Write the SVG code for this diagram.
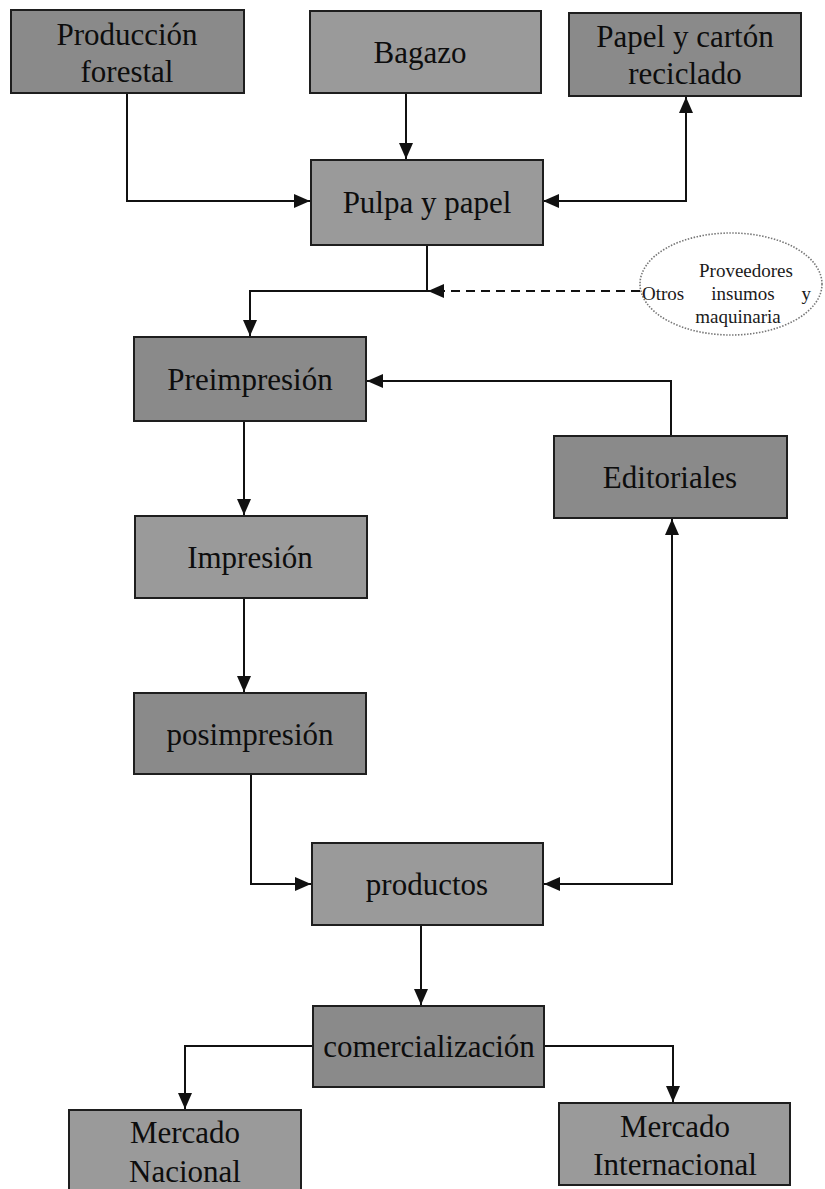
<svg xmlns="http://www.w3.org/2000/svg" width="825" height="1189" viewBox="0 0 825 1189">
<style>
.box{stroke:#1e1e1e;stroke-width:2}
.d{fill:#8a8a8a}
.l{fill:#9a9a9a}
.t{font-family:"Liberation Serif","Times New Roman",serif;font-size:31px;fill:#0d0d0d;text-anchor:middle}
.s{font-family:"Liberation Serif","Times New Roman",serif;font-size:19px;fill:#1a1a1a}
.c{fill:none;stroke:#111;stroke-width:2}
.dash{fill:none;stroke:#111;stroke-width:2;stroke-dasharray:9 6}
</style>
<defs>
<marker id="a" viewBox="0 0 16 16" refX="16" refY="8" markerWidth="16" markerHeight="16" markerUnits="userSpaceOnUse" orient="auto-start-reverse">
<path d="M0,1 L16,8 L0,15 z" fill="#111"/>
</marker>
</defs>
<rect width="825" height="1189" fill="#ffffff"/>

<g id="connectors">
<path class="c" d="M127,93 V201 H310" marker-end="url(#a)"/>
<path class="c" d="M406,93 V159" marker-end="url(#a)"/>
<path class="c" d="M543,201 H686 V97" marker-start="url(#a)" marker-end="url(#a)"/>
<path class="c" d="M427,245 V291 H250 V336" marker-end="url(#a)"/>
<path class="dash" d="M640,291 H428" marker-end="url(#a)"/>
<path class="c" d="M671,436 V381 H367" marker-end="url(#a)"/>
<path class="c" d="M244,421 V515" marker-end="url(#a)"/>
<path class="c" d="M244,598 V692" marker-end="url(#a)"/>
<path class="c" d="M251,774 V884 H311" marker-end="url(#a)"/>
<path class="c" d="M544,884 H672 V519" marker-start="url(#a)" marker-end="url(#a)"/>
<path class="c" d="M421,925 V1005" marker-end="url(#a)"/>
<path class="c" d="M313,1046 H185 V1109" marker-end="url(#a)"/>
<path class="c" d="M544,1046 H673 V1102" marker-end="url(#a)"/>
</g>

<g id="produccion-forestal">
<rect class="box d" x="11" y="10" width="233" height="83"/>
<text class="t" x="127" y="45">Producción</text>
<text class="t" x="127" y="82">forestal</text>
</g>
<g id="bagazo">
<rect class="box l" x="310" y="11" width="231" height="82"/>
<text class="t" x="420" y="63">Bagazo</text>
</g>
<g id="papel-carton">
<rect class="box d" x="569" y="13" width="232" height="83"/>
<text class="t" x="685" y="47">Papel y cartón</text>
<text class="t" x="685" y="84">reciclado</text>
</g>
<g id="pulpa-papel">
<rect class="box l" x="311" y="160" width="232" height="85"/>
<text class="t" x="427" y="213">Pulpa y papel</text>
</g>
<g id="proveedores">
<ellipse cx="731" cy="284" rx="91" ry="51" fill="#ffffff" stroke="#777" stroke-width="1.6" stroke-dasharray="1.5 1.5"/>
<text class="s" x="746" y="277" text-anchor="middle">Proveedores</text>
<text class="s" x="642" y="300">Otros</text>
<text class="s" x="743" y="300" text-anchor="middle">insumos</text>
<text class="s" x="811" y="300" text-anchor="end">y</text>
<text class="s" x="738" y="323" text-anchor="middle">maquinaria</text>
</g>
<g id="preimpresion">
<rect class="box d" x="134" y="337" width="232" height="84"/>
<text class="t" x="250" y="390">Preimpresión</text>
</g>
<g id="editoriales">
<rect class="box d" x="554" y="436" width="233" height="82"/>
<text class="t" x="670" y="488">Editoriales</text>
</g>
<g id="impresion">
<rect class="box l" x="135" y="516" width="232" height="82"/>
<text class="t" x="250" y="568">Impresión</text>
</g>
<g id="posimpresion">
<rect class="box d" x="134" y="693" width="232" height="81"/>
<text class="t" x="250" y="745">posimpresión</text>
</g>
<g id="productos">
<rect class="box l" x="312" y="843" width="231" height="82"/>
<text class="t" x="427" y="895">productos</text>
</g>
<g id="comercializacion">
<rect class="box d" x="313" y="1006" width="231" height="81"/>
<text class="t" x="429" y="1057">comercialización</text>
</g>
<g id="mercado-nacional">
<rect class="box l" x="69" y="1110" width="232" height="85"/>
<text class="t" x="185" y="1143">Mercado</text>
<text class="t" x="185" y="1182">Nacional</text>
</g>
<g id="mercado-internacional">
<rect class="box l" x="559" y="1103" width="231" height="82"/>
<text class="t" x="675" y="1137">Mercado</text>
<text class="t" x="675" y="1175">Internacional</text>
</g>
</svg>
